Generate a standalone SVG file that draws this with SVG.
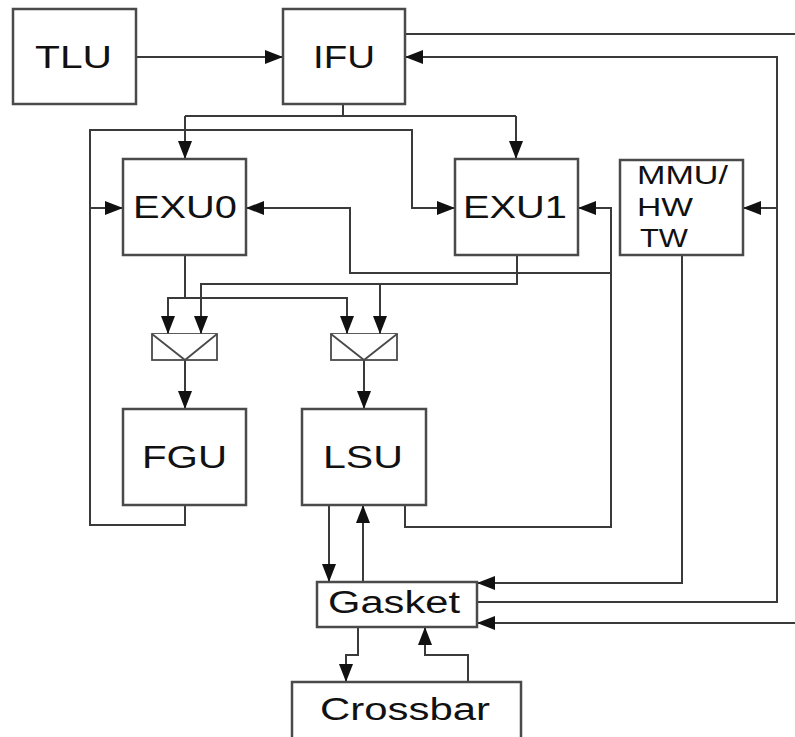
<svg xmlns="http://www.w3.org/2000/svg" width="795" height="737" viewBox="0 0 795 737">
<defs>
<marker id="ah" markerUnits="userSpaceOnUse" markerWidth="18" markerHeight="14" refX="18" refY="7" orient="auto">
<path d="M0,0 L18,7 L0,14 z" fill="#111"/>
</marker>
<style>
.box{fill:#fff;stroke:#4a4a4a;stroke-width:2.5}
.mux{fill:#fff;stroke:#4a4a4a;stroke-width:1.8}
.ln{fill:none;stroke:#3a3a3a;stroke-width:2}
.ar{fill:none;stroke:#3a3a3a;stroke-width:2;marker-end:url(#ah)}
.t{font-family:"Liberation Sans",Arial,sans-serif;font-size:31px;fill:#111}
.s{font-family:"Liberation Sans",Arial,sans-serif;font-size:26px;fill:#111}
</style>
</defs>
<rect width="795" height="737" fill="#fff"/>
<g id="connectors">
<path class="ar" d="M136,57 H283"/>
<path class="ln" d="M343,104 V116 M185,116 H516"/>
<path class="ar" d="M185,116 V159"/>
<path class="ar" d="M516,116 V159"/>
<path class="ar" d="M185,505 V525 H90 V130 H412 V208 H455"/>
<path class="ar" d="M90,208 H123"/>
<path class="ln" d="M405,34 H795"/>
<path class="ar" d="M477,602 H777 V57 H405"/>
<path class="ar" d="M777,208 H743"/>
<path class="ar" d="M795,623 H477"/>
<path class="ar" d="M682,255 V583 H477"/>
<path class="ar" d="M405,505 V527 H611 V208 H578"/>
<path class="ar" d="M611,273 H350 V208 H246"/>
<path class="ar" d="M517,255 V284 H201 V334"/>
<path class="ar" d="M380,284 V334"/>
<path class="ar" d="M185,255 V298 H168 V334"/>
<path class="ar" d="M185,298 H347 V334"/>
<path class="ar" d="M185,360 V409"/>
<path class="ar" d="M364,360 V409"/>
<path class="ar" d="M329,505 V582"/>
<path class="ar" d="M363,582 V505"/>
<path class="ar" d="M358,627 V655 H346 V682"/>
<path class="ar" d="M468,682 V655 H425 V627"/>
</g>
<g id="TLU"><rect class="box" x="13" y="9" width="123" height="95"/><text class="t" x="35" y="68" textLength="77" lengthAdjust="spacingAndGlyphs">TLU</text></g>
<g id="IFU"><rect class="box" x="283" y="9" width="122" height="95"/><text class="t" x="313" y="68" textLength="62" lengthAdjust="spacingAndGlyphs">IFU</text></g>
<g id="EXU0"><rect class="box" x="123" y="159" width="123" height="96"/><text class="t" x="133" y="218" textLength="104" lengthAdjust="spacingAndGlyphs">EXU0</text></g>
<g id="EXU1"><rect class="box" x="455" y="159" width="123" height="96"/><text class="t" x="463" y="218" textLength="104" lengthAdjust="spacingAndGlyphs">EXU1</text></g>
<g id="MMU"><rect class="box" x="620" y="160" width="123" height="95"/>
<text class="s" x="637" y="184" textLength="91" lengthAdjust="spacingAndGlyphs">MMU/</text>
<text class="s" x="637" y="216" textLength="56" lengthAdjust="spacingAndGlyphs">HW</text>
<text class="s" x="640" y="247" textLength="48" lengthAdjust="spacingAndGlyphs">TW</text></g>
<g id="mux1"><rect class="mux" x="152" y="334" width="65" height="26"/><path class="mux" d="M152,334 L185,360 L217,334" fill="none"/></g>
<g id="mux2"><rect class="mux" x="331" y="334" width="66" height="26"/><path class="mux" d="M331,334 L364,360 L397,334" fill="none"/></g>
<g id="FGU"><rect class="box" x="123" y="409" width="123" height="96"/><text class="t" x="142" y="468" textLength="85" lengthAdjust="spacingAndGlyphs">FGU</text></g>
<g id="LSU"><rect class="box" x="302" y="409" width="124" height="96"/><text class="t" x="323" y="468" textLength="80" lengthAdjust="spacingAndGlyphs">LSU</text></g>
<g id="Gasket"><rect class="box" x="317" y="582" width="160" height="45"/><text class="t" x="328" y="613" textLength="132" lengthAdjust="spacingAndGlyphs">Gasket</text></g>
<g id="Crossbar"><rect class="box" x="292" y="682" width="229" height="70"/><text class="t" x="320" y="720" textLength="170" lengthAdjust="spacingAndGlyphs">Crossbar</text></g>
</svg>
